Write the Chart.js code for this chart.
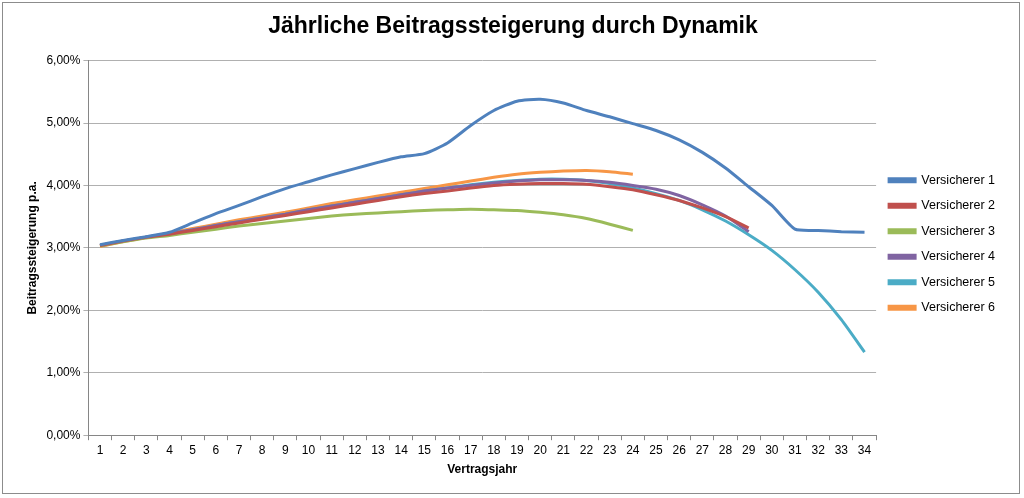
<!DOCTYPE html>
<html><head><meta charset="utf-8">
<script src="https://cdn.jsdelivr.net/npm/chart.js@4"></script>
<style>
html,body{margin:0;background:#fff}
#wrap{position:absolute;left:2px;top:2px;width:1018px;height:492px;border:1px solid #8c8c8c;box-sizing:border-box}
</style></head><body>
<div id="wrap"><canvas id="c"></canvas></div>
<script>
const years = Array.from({length: 34}, (_, i) => String(i + 1));
const v1 = [3.05,3.12,3.18,3.25,3.40,3.55,3.68,3.82,3.95,4.06,4.17,4.27,4.37,4.46,4.51,4.68,4.96,5.20,5.35,5.38,5.32,5.20,5.10,4.99,4.88,4.73,4.53,4.28,3.98,3.68,3.30,3.28,3.26,3.25];
const v2 = [3.04,3.11,3.17,3.22,3.28,3.34,3.40,3.46,3.52,3.58,3.64,3.70,3.76,3.82,3.87,3.91,3.96,4.00,4.02,4.03,4.03,4.02,3.98,3.93,3.85,3.76,3.64,3.50,3.32];
const v3 = [3.03,3.10,3.16,3.20,3.25,3.30,3.35,3.39,3.43,3.47,3.51,3.54,3.56,3.58,3.60,3.61,3.62,3.61,3.60,3.57,3.53,3.47,3.38,3.28];
const v4 = [3.04,3.11,3.17,3.23,3.29,3.36,3.42,3.48,3.54,3.61,3.67,3.73,3.79,3.85,3.91,3.96,4.00,4.04,4.07,4.09,4.09,4.08,4.05,4.00,3.94,3.84,3.69,3.51,3.26];
const v5 = [3.04,3.11,3.17,3.23,3.29,3.36,3.42,3.48,3.54,3.61,3.67,3.73,3.79,3.85,3.91,3.96,4.01,4.05,4.08,4.10,4.10,4.08,4.03,3.96,3.87,3.76,3.61,3.43,3.21,2.96,2.65,2.29,1.85,1.33];
const v6 = [3.02,3.10,3.17,3.24,3.31,3.38,3.45,3.51,3.57,3.64,3.71,3.77,3.83,3.89,3.95,4.01,4.07,4.13,4.18,4.21,4.23,4.24,4.22,4.18];
const names = ['Versicherer 1','Versicherer 2','Versicherer 3','Versicherer 4','Versicherer 5','Versicherer 6'];
const colors = ['#4F81BD','#C0504D','#9BBB59','#8064A2','#4BACC6','#F79646'];
const series = [v1, v2, v3, v4, v5, v6];

Chart.defaults.font.family = 'Liberation Sans, Arial, sans-serif';
Chart.defaults.color = '#000';
new Chart(document.getElementById('c'), {
    type: 'line',
    data: {
        labels: years,
        datasets: series.map((d, i) => ({
            label: names[i], data: d, borderColor: colors[i], backgroundColor: colors[i],
            borderWidth: 3, pointRadius: 0, tension: 0.2, fill: false
        }))
    },
    options: {
        responsive: true, maintainAspectRatio: false, animation: false,
        layout: {padding: {left: 18, right: 14, top: 6, bottom: 14}},
        plugins: {
            title: {display: true, text: 'Jährliche Beitragssteigerung durch Dynamik',
                font: {size: 23, weight: 'bold'}, padding: {top: 4, bottom: 20}},
            legend: {position: 'right', labels: {boxWidth: 26, boxHeight: 3, padding: 13, font: {size: 12.5}}}
        },
        scales: {
            x: {
                offset: true,
                title: {display: true, text: 'Vertragsjahr', font: {size: 12, weight: 'bold'}, padding: 2},
                grid: {display: true, drawOnChartArea: false, offset: true, tickLength: 5, color: '#868686'},
                border: {color: '#868686'},
                ticks: {font: {size: 12}, maxRotation: 0, autoSkip: false}
            },
            y: {
                min: 0, max: 6,
                title: {display: true, text: 'Beitragssteigerung p.a.', font: {size: 12, weight: 'bold'}},
                grid: {color: '#b0b0b0', tickLength: 5},
                border: {color: '#868686'},
                ticks: {stepSize: 1, font: {size: 12}, callback: v => v.toFixed(2).replace('.', ',') + '%'}
            }
        }
    }
});
</script>
</body></html>
